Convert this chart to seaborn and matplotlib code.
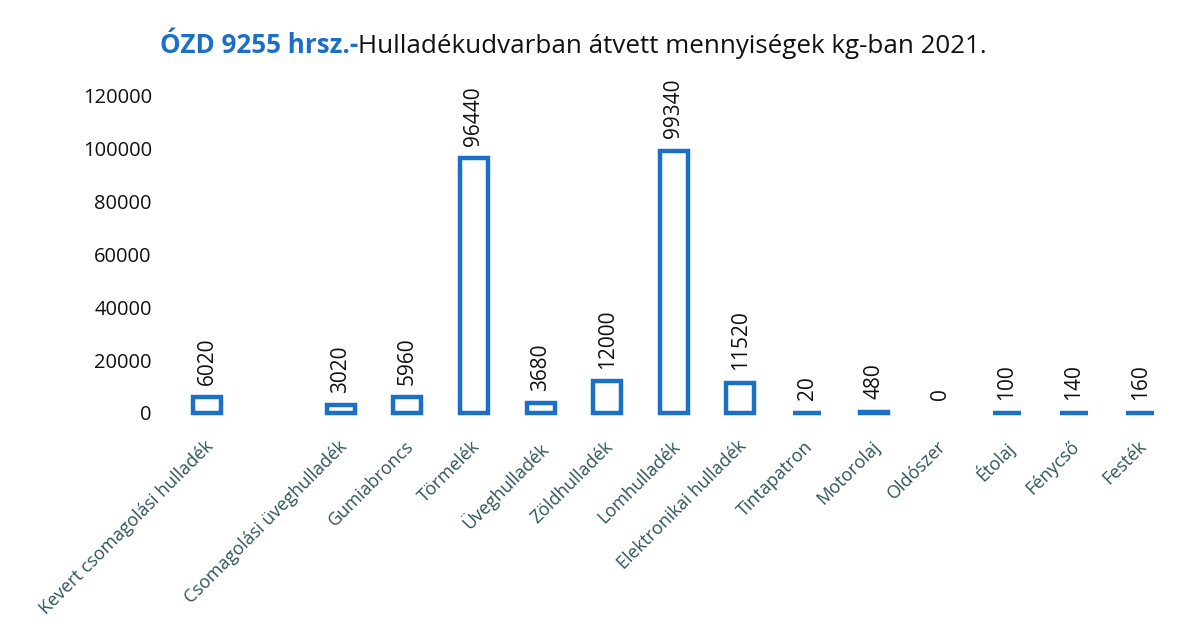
import pandas as pd
import matplotlib.pyplot as plt
import matplotlib.transforms as mtransforms
import seaborn as sns

# Data (kg, 2021)
categories = [
    "Kevert csomagolási hulladék", "", "Csomagolási üveghulladék", "Gumiabroncs",
    "Törmelék", "Üveghulladék", "Zöldhulladék", "Lomhulladék",
    "Elektronikai hulladék", "Tintapatron", "Motorolaj", "Oldószer",
    "Étolaj", "Fénycső", "Festék",
]
values = [6020, None, 3020, 5960, 96440, 3680, 12000, 99340,
          11520, 20, 480, 0, 100, 140, 160]
yticks = [0, 20000, 40000, 60000, 80000, 100000, 120000]

BLUE = "#1c6fc6"
TEAL = "#2f5558"

sns.set_theme(style="white")
plt.rcParams["font.family"] = ["Open Sans", "DejaVu Sans"]

df = pd.DataFrame({"category": categories, "value": values})
plot_df = df.dropna()

fig = plt.figure(figsize=(11.92, 6.31), dpi=100)
ax = fig.add_axes([0.146, 0.3455, 0.8385, 0.5025])

sns.barplot(data=plot_df, x="category", y="value", order=categories,
            fill=False, color=BLUE, linewidth=3.2, width=0.42, ax=ax)

bars = ax.containers[0]
for p in bars.patches:
    p.set_edgecolor(BLUE)
    p.set_clip_on(False)
    if p.get_height() == 0:
        p.set_linewidth(0)

ax.bar_label(bars, labels=[f"{int(v)}" for v in plot_df["value"]],
             rotation=90, padding=9, fontsize=15, color="#111111")

ax.set_ylim(0, 120000)
ax.set_yticks(yticks)
ax.set_yticklabels([str(t) for t in yticks], fontsize=14.5, color="#111111")
ax.set_xticks(range(len(categories)))
ax.set_xticklabels(categories, rotation=45, ha="right", rotation_mode="anchor",
                   fontsize=13, color=TEAL)
ax.tick_params(axis="y", length=0, pad=16)
ax.tick_params(axis="x", length=0, pad=14)
ax.set_xlabel("")
ax.set_ylabel("")
sns.despine(ax=ax, left=True, bottom=True)

# small nudge of the slanted category labels (after tick_params, which resets them)
shift = mtransforms.ScaledTranslation(-3 / 100, -5 / 100, fig.dpi_scale_trans)
for lbl in ax.get_xticklabels():
    lbl.set_transform(lbl.get_transform() + shift)

# Two-colour title
t1 = fig.text(160 / 1192, 1 - 53 / 631, "ÓZD 9255 hrsz.-", fontsize=18.7,
              fontweight="bold", color=BLUE, ha="left", va="baseline")
fig.canvas.draw()
bb = t1.get_window_extent()
fig.text(bb.x1 / fig.bbox.width, 1 - 53 / 631,
         "Hulladékudvarban átvett mennyiségek kg-ban 2021.", fontsize=18.7,
         color="#111111", ha="left", va="baseline")

fig.savefig("out.png", dpi=100)
plt.close(fig)
